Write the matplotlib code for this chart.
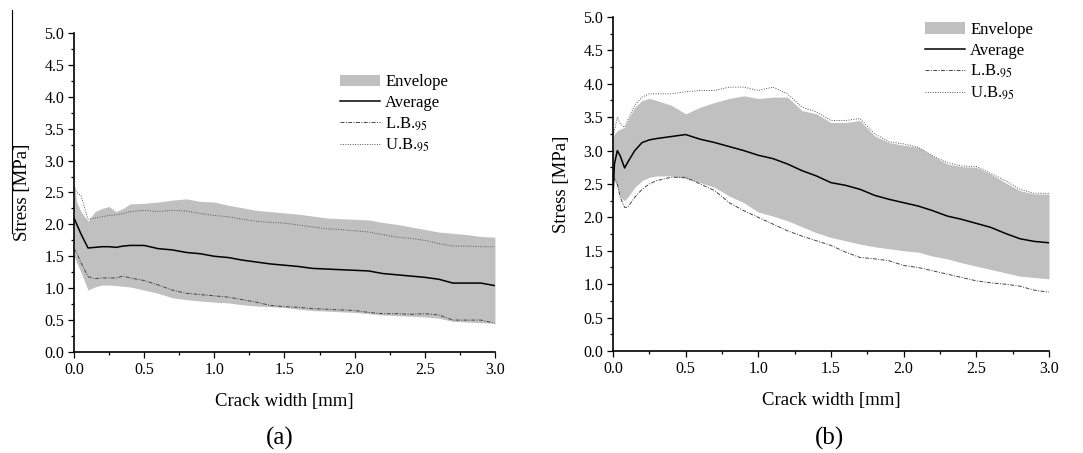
import matplotlib
matplotlib.use("Agg")
import matplotlib.pyplot as plt
from matplotlib.lines import Line2D
from matplotlib.patches import Patch
from matplotlib.ticker import MultipleLocator, FormatStrFormatter

plt.rcParams['font.family'] = ['Liberation Serif', 'DejaVu Serif']
plt.rcParams['mathtext.fontset'] = 'stix'

# ---- panel (a) ----
x_a = [0, 0.02, 0.05, 0.1, 0.15, 0.2, 0.25, 0.3, 0.35, 0.4, 0.5, 0.6, 0.7, 0.8, 0.9,
       1.0, 1.1, 1.2, 1.3, 1.4, 1.5, 1.6, 1.7, 1.8, 1.9, 2.0, 2.1, 2.2, 2.3, 2.4,
       2.5, 2.6, 2.7, 2.8, 2.9, 3.0]
avg_a = [2.10, 2.00, 1.85, 1.63, 1.64, 1.65, 1.65, 1.64, 1.66, 1.67, 1.67, 1.62, 1.60, 1.56, 1.54,
         1.50, 1.48, 1.44, 1.41, 1.38, 1.36, 1.34, 1.31, 1.30, 1.29, 1.28, 1.27, 1.23, 1.21, 1.19,
         1.17, 1.14, 1.08, 1.08, 1.08, 1.04]
env_hi_a = [2.65, 2.35, 2.20, 2.05, 2.20, 2.25, 2.28, 2.20, 2.25, 2.32, 2.33, 2.35, 2.38, 2.40, 2.36,
            2.35, 2.30, 2.26, 2.22, 2.20, 2.18, 2.16, 2.13, 2.10, 2.09, 2.08, 2.07, 2.03, 2.00, 1.96,
            1.92, 1.88, 1.86, 1.84, 1.81, 1.80]
env_lo_a = [1.50, 1.40, 1.25, 0.97, 1.02, 1.05, 1.05, 1.04, 1.03, 1.02, 0.97, 0.92, 0.85, 0.82, 0.80,
            0.78, 0.77, 0.74, 0.72, 0.71, 0.70, 0.67, 0.65, 0.64, 0.63, 0.62, 0.60, 0.58, 0.57, 0.56,
            0.55, 0.53, 0.48, 0.47, 0.46, 0.45]
ub_a = [2.60, 2.50, 2.45, 2.08, 2.10, 2.12, 2.14, 2.15, 2.17, 2.20, 2.22, 2.20, 2.22, 2.21, 2.17,
        2.14, 2.12, 2.08, 2.05, 2.03, 2.02, 1.99, 1.96, 1.93, 1.92, 1.90, 1.88, 1.84, 1.80, 1.78,
        1.75, 1.70, 1.66, 1.66, 1.65, 1.65]
lb_a = [1.62, 1.55, 1.40, 1.18, 1.15, 1.16, 1.16, 1.16, 1.19, 1.16, 1.12, 1.05, 0.97, 0.92, 0.90,
        0.88, 0.86, 0.82, 0.78, 0.73, 0.71, 0.70, 0.68, 0.67, 0.66, 0.65, 0.62, 0.60, 0.60, 0.59,
        0.60, 0.58, 0.50, 0.50, 0.50, 0.45]

# ---- panel (b) ----
x_b = [0, 0.01, 0.03, 0.05, 0.08, 0.1, 0.15, 0.2, 0.25, 0.3, 0.4, 0.5, 0.6, 0.7, 0.8, 0.9,
       1.0, 1.1, 1.2, 1.3, 1.4, 1.5, 1.6, 1.7, 1.8, 1.9, 2.0, 2.1, 2.2, 2.3, 2.4,
       2.5, 2.6, 2.7, 2.8, 2.9, 3.0]
avg_b = [2.30, 2.80, 3.00, 2.92, 2.74, 2.82, 3.00, 3.12, 3.16, 3.18, 3.21, 3.24, 3.17, 3.12, 3.06, 3.00,
         2.93, 2.88, 2.80, 2.70, 2.62, 2.52, 2.48, 2.42, 2.33, 2.27, 2.22, 2.17, 2.10, 2.02, 1.97,
         1.91, 1.85, 1.76, 1.68, 1.64, 1.62]
env_hi_b = [3.20, 3.25, 3.30, 3.32, 3.35, 3.45, 3.65, 3.75, 3.78, 3.75, 3.68, 3.55, 3.65, 3.72, 3.78, 3.82,
            3.78, 3.80, 3.80, 3.60, 3.55, 3.42, 3.42, 3.45, 3.22, 3.12, 3.08, 3.05, 2.92, 2.80, 2.76,
            2.75, 2.65, 2.52, 2.40, 2.35, 2.35]
env_lo_b = [2.60, 2.55, 2.45, 2.30, 2.25, 2.30, 2.45, 2.55, 2.60, 2.62, 2.62, 2.58, 2.52, 2.45, 2.32, 2.22,
            2.08, 2.02, 1.95, 1.86, 1.77, 1.70, 1.65, 1.60, 1.56, 1.53, 1.50, 1.48, 1.42, 1.38, 1.32,
            1.27, 1.22, 1.17, 1.12, 1.10, 1.08]
ub_b = [3.20, 3.30, 3.50, 3.40, 3.35, 3.45, 3.68, 3.80, 3.85, 3.85, 3.85, 3.88, 3.90, 3.90, 3.95, 3.95,
        3.90, 3.95, 3.85, 3.65, 3.58, 3.45, 3.45, 3.48, 3.25, 3.13, 3.10, 3.05, 2.92, 2.82, 2.77,
        2.76, 2.66, 2.55, 2.42, 2.36, 2.36]
lb_b = [2.60, 2.58, 2.50, 2.30, 2.15, 2.15, 2.30, 2.42, 2.50, 2.55, 2.60, 2.60, 2.50, 2.40, 2.22, 2.10,
        2.00, 1.90, 1.80, 1.72, 1.65, 1.58, 1.48, 1.40, 1.38, 1.35, 1.28, 1.25, 1.20, 1.15, 1.10,
        1.05, 1.02, 1.00, 0.97, 0.91, 0.88]

labels = ['Envelope', 'Average', 'L.B.$_{95}$', 'U.B.$_{95}$']
env_color = '#c0c0c0'
lb_style = (0, (4, 1.5, 1, 1.5))
ub_style = (0, (1, 1.5))

fig = plt.figure(figsize=(10.83, 4.53), dpi=100)
ax_a = fig.add_axes([0.0683, 0.2230, 0.3887, 0.7042])
ax_b = fig.add_axes([0.5660, 0.2252, 0.4026, 0.7373])


def draw(ax, x, avg, hi, lo, ub, lb, anchor):
    ax.fill_between(x, lo, hi, color=env_color, linewidth=0)
    ax.plot(x, lb, color='#444444', lw=0.7, ls=lb_style)
    ax.plot(x, ub, color='#555555', lw=0.7, ls=ub_style)
    ax.plot(x, avg, color='black', lw=1.1)
    ax.set_xlim(0, 3)
    ax.set_ylim(0, 5)
    ax.xaxis.set_major_locator(MultipleLocator(0.5))
    ax.xaxis.set_minor_locator(MultipleLocator(0.25))
    ax.yaxis.set_major_locator(MultipleLocator(0.5))
    ax.yaxis.set_minor_locator(MultipleLocator(0.25))
    ax.xaxis.set_major_formatter(FormatStrFormatter('%.1f'))
    ax.yaxis.set_major_formatter(FormatStrFormatter('%.1f'))
    ax.spines['top'].set_visible(False)
    ax.spines['right'].set_visible(False)
    for s in ('left', 'bottom'):
        ax.spines[s].set_linewidth(1.2)
    ax.tick_params(which='major', direction='out', length=4, width=0.9, labelsize=11.5, pad=3)
    ax.tick_params(which='minor', direction='out', length=2.5, width=0.9)
    ax.set_xlabel('Crack width [mm]', fontsize=13.5, labelpad=11)
    ax.set_ylabel('Stress [MPa]', fontsize=13.5, labelpad=9.5)
    handles = [Patch(facecolor=env_color, edgecolor='none'),
               Line2D([], [], color='black', lw=1.1),
               Line2D([], [], color='#444444', lw=0.7, ls=lb_style),
               Line2D([], [], color='#555555', lw=0.7, ls=ub_style)]
    ax.legend(handles, labels, frameon=False, loc='upper left', bbox_to_anchor=anchor,
              fontsize=12, handlelength=2.4, handletextpad=0.3, labelspacing=0.28,
              borderpad=0, borderaxespad=0)


draw(ax_a, x_a, avg_a, env_hi_a, env_lo_a, ub_a, lb_a, (0.632, 0.87))
draw(ax_b, x_b, avg_b, env_hi_b, env_lo_b, ub_b, lb_b, (0.716, 0.985))

fig.text(0.2585, 0.033, '(a)', fontsize=18, ha='center', va='center')
fig.text(0.766, 0.033, '(b)', fontsize=18, ha='center', va='center')

# stray frame line at the left edge of the scan
fig.add_artist(Line2D([0.011, 0.011], [0.978, 0.486], color='black', lw=0.8,
                      transform=fig.transFigure))

fig.savefig('out.png', dpi=100)
